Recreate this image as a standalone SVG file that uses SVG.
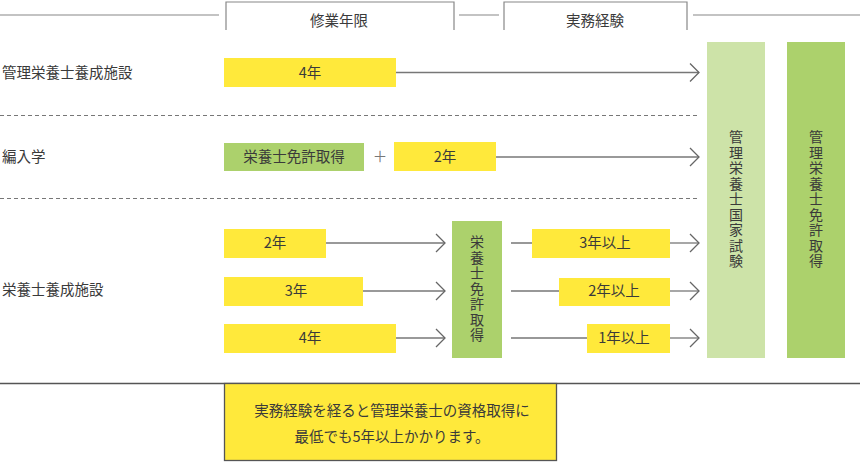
<svg xmlns="http://www.w3.org/2000/svg" width="860" height="465" viewBox="0 0 860 465">
<defs>
<style>
text{font-family:"Noto Sans CJK JP","Noto Sans",sans-serif;fill:#3a3a3a;font-size:14.5px}
.c{text-anchor:middle}
.v{font-size:14px;writing-mode:vertical-rl;text-anchor:start;letter-spacing:1.5px}
.y{fill:#FFE93B}
.g{fill:#ACD16C}
.lg{fill:#CDE3A8}
.ln{stroke:#777;stroke-width:1.3;fill:none}
.hd{stroke:#888;stroke-width:1.2;fill:none}
.ds{stroke:#777;stroke-width:1;stroke-dasharray:4 3;fill:none}
</style>
<marker id="ah" markerWidth="12" markerHeight="20" refX="10" refY="10" orient="auto" markerUnits="userSpaceOnUse">
<path d="M1,1 L10,10 L1,19" fill="none" stroke="#666" stroke-width="1.3"/>
</marker>
</defs>
<g id="header">
<path class="hd" d="M0,15 H219 M459,15 H499 M693,15 H860"/>
<path class="hd" d="M226,30 V2 H454 V30"/>
<path class="hd" d="M504,30 V2 H687 V30"/>
<text class="c" x="339" y="26">修業年限</text>
<text class="c" x="595" y="26">実務経験</text>
</g>
<g id="labels">
<text x="2" y="78">管理栄養士養成施設</text>
<text x="2" y="162">編入学</text>
<text x="2" y="295">栄養士養成施設</text>
</g>
<g id="separators">
<path class="ds" d="M0,115.5 H699 M0,198.5 H699"/>
<path d="M0,383.5 H860" stroke="#555" stroke-width="1.3"/>
</g>
<g id="connectors">
<path class="ln" d="M396,72.5 H699" marker-end="url(#ah)"/>
<path class="ln" d="M496,157 H699" marker-end="url(#ah)"/>
<path class="ln" d="M326,243 H445" marker-end="url(#ah)"/>
<path class="ln" d="M363,291 H445" marker-end="url(#ah)"/>
<path class="ln" d="M396,338 H445" marker-end="url(#ah)"/>
<path class="ln" d="M511,243 H532 M511,291 H559 M511,338 H587"/>
<path class="ln" d="M670,243 H699" marker-end="url(#ah)"/>
<path class="ln" d="M670,291 H699" marker-end="url(#ah)"/>
<path class="ln" d="M670,338 H699" marker-end="url(#ah)"/>
</g>
<g id="r1-4y">
<rect class="y" x="224" y="58" width="172" height="29"/>
<text class="c" x="310" y="78">4年</text>
</g>
<g id="r2-license">
<rect class="g" x="224" y="143" width="140" height="28"/>
<text class="c" x="294" y="162">栄養士免許取得</text>
</g>
<g id="r2-plus">
<text class="c" x="380" y="162" style="fill:#777">＋</text>
</g>
<g id="r2-2y">
<rect class="y" x="394" y="142" width="102" height="29"/>
<text class="c" x="445" y="162">2年</text>
</g>
<g id="r3-2y">
<rect class="y" x="224" y="229" width="102" height="29"/>
<text class="c" x="275" y="248">2年</text>
</g>
<g id="r3-3y">
<rect class="y" x="224" y="277" width="139" height="29"/>
<text class="c" x="296" y="296">3年</text>
</g>
<g id="r3-4y">
<rect class="y" x="224" y="324" width="172" height="29"/>
<text class="c" x="310" y="343">4年</text>
</g>
<g id="r3-license">
<rect class="g" x="452" y="221" width="50" height="137"/>
<text class="v" x="477" y="235">栄養士免許取得</text>
</g>
<g id="r3-exp-3">
<rect class="y" x="532" y="229" width="138" height="29"/>
<text class="c" x="605" y="248">3年以上</text>
</g>
<g id="r3-exp-2">
<rect class="y" x="559" y="278" width="111" height="28"/>
<text class="c" x="614" y="296">2年以上</text>
</g>
<g id="r3-exp-1">
<rect class="y" x="587" y="324" width="83" height="29"/>
<text class="c" x="624" y="343">1年以上</text>
</g>
<g id="exam">
<rect class="lg" x="707" y="42" width="58" height="316"/>
<text class="v" x="736" y="130">管理栄養士国家試験</text>
</g>
<g id="final">
<rect class="g" x="787" y="42" width="58" height="316"/>
<text class="v" x="816" y="130">管理栄養士免許取得</text>
</g>
<g id="note">
<rect class="y" x="224.5" y="383.5" width="332" height="77" stroke="#555" stroke-width="1.3"/>
<text class="c" x="392" y="416">実務経験を経ると管理栄養士の資格取得に</text>
<text class="c" x="392" y="442">最低でも5年以上かかります。</text>
</g>
</svg>
